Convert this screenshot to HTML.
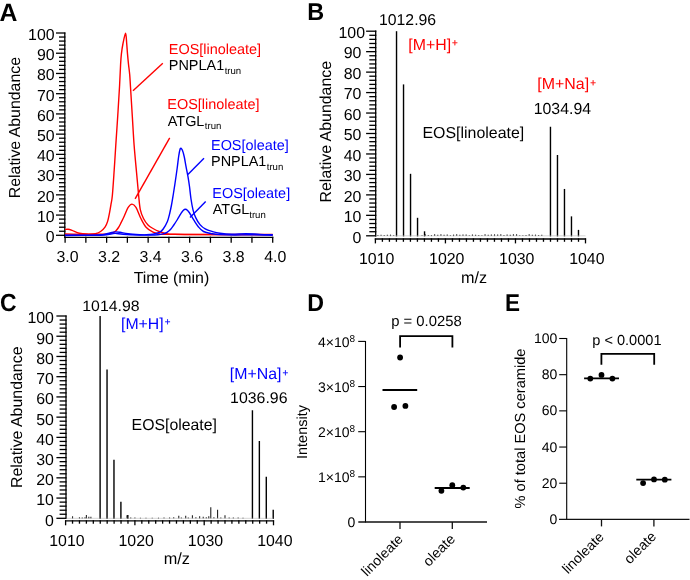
<!DOCTYPE html>
<html><head><meta charset="utf-8"><style>
html,body{margin:0;padding:0;background:#fff;}
svg{display:block;will-change:transform;}
text{font-family:"Liberation Sans", sans-serif;text-rendering:geometricPrecision;}
</style></head><body>
<svg width="690" height="580" viewBox="0 0 690 580">
<rect width="690" height="580" fill="#fff"/>
<text transform="translate(-0.42 21.30) scale(0.9903 1)" font-size="25.02" font-weight="bold">A</text>
<line x1="64.80" y1="32.40" x2="64.80" y2="237.90" stroke="#000" stroke-width="1.3"/>
<line x1="56.00" y1="235.30" x2="65.40" y2="235.30" stroke="#000" stroke-width="1.3"/>
<line x1="59.00" y1="231.25" x2="65.40" y2="231.25" stroke="#000" stroke-width="1.3"/>
<line x1="59.00" y1="227.21" x2="65.40" y2="227.21" stroke="#000" stroke-width="1.3"/>
<line x1="59.00" y1="223.16" x2="65.40" y2="223.16" stroke="#000" stroke-width="1.3"/>
<line x1="59.00" y1="219.12" x2="65.40" y2="219.12" stroke="#000" stroke-width="1.3"/>
<line x1="56.00" y1="215.07" x2="65.40" y2="215.07" stroke="#000" stroke-width="1.3"/>
<line x1="59.00" y1="211.02" x2="65.40" y2="211.02" stroke="#000" stroke-width="1.3"/>
<line x1="59.00" y1="206.98" x2="65.40" y2="206.98" stroke="#000" stroke-width="1.3"/>
<line x1="59.00" y1="202.93" x2="65.40" y2="202.93" stroke="#000" stroke-width="1.3"/>
<line x1="59.00" y1="198.89" x2="65.40" y2="198.89" stroke="#000" stroke-width="1.3"/>
<line x1="56.00" y1="194.84" x2="65.40" y2="194.84" stroke="#000" stroke-width="1.3"/>
<line x1="59.00" y1="190.79" x2="65.40" y2="190.79" stroke="#000" stroke-width="1.3"/>
<line x1="59.00" y1="186.75" x2="65.40" y2="186.75" stroke="#000" stroke-width="1.3"/>
<line x1="59.00" y1="182.70" x2="65.40" y2="182.70" stroke="#000" stroke-width="1.3"/>
<line x1="59.00" y1="178.66" x2="65.40" y2="178.66" stroke="#000" stroke-width="1.3"/>
<line x1="56.00" y1="174.61" x2="65.40" y2="174.61" stroke="#000" stroke-width="1.3"/>
<line x1="59.00" y1="170.56" x2="65.40" y2="170.56" stroke="#000" stroke-width="1.3"/>
<line x1="59.00" y1="166.52" x2="65.40" y2="166.52" stroke="#000" stroke-width="1.3"/>
<line x1="59.00" y1="162.47" x2="65.40" y2="162.47" stroke="#000" stroke-width="1.3"/>
<line x1="59.00" y1="158.43" x2="65.40" y2="158.43" stroke="#000" stroke-width="1.3"/>
<line x1="56.00" y1="154.38" x2="65.40" y2="154.38" stroke="#000" stroke-width="1.3"/>
<line x1="59.00" y1="150.33" x2="65.40" y2="150.33" stroke="#000" stroke-width="1.3"/>
<line x1="59.00" y1="146.29" x2="65.40" y2="146.29" stroke="#000" stroke-width="1.3"/>
<line x1="59.00" y1="142.24" x2="65.40" y2="142.24" stroke="#000" stroke-width="1.3"/>
<line x1="59.00" y1="138.20" x2="65.40" y2="138.20" stroke="#000" stroke-width="1.3"/>
<line x1="56.00" y1="134.15" x2="65.40" y2="134.15" stroke="#000" stroke-width="1.3"/>
<line x1="59.00" y1="130.10" x2="65.40" y2="130.10" stroke="#000" stroke-width="1.3"/>
<line x1="59.00" y1="126.06" x2="65.40" y2="126.06" stroke="#000" stroke-width="1.3"/>
<line x1="59.00" y1="122.01" x2="65.40" y2="122.01" stroke="#000" stroke-width="1.3"/>
<line x1="59.00" y1="117.97" x2="65.40" y2="117.97" stroke="#000" stroke-width="1.3"/>
<line x1="56.00" y1="113.92" x2="65.40" y2="113.92" stroke="#000" stroke-width="1.3"/>
<line x1="59.00" y1="109.87" x2="65.40" y2="109.87" stroke="#000" stroke-width="1.3"/>
<line x1="59.00" y1="105.83" x2="65.40" y2="105.83" stroke="#000" stroke-width="1.3"/>
<line x1="59.00" y1="101.78" x2="65.40" y2="101.78" stroke="#000" stroke-width="1.3"/>
<line x1="59.00" y1="97.74" x2="65.40" y2="97.74" stroke="#000" stroke-width="1.3"/>
<line x1="56.00" y1="93.69" x2="65.40" y2="93.69" stroke="#000" stroke-width="1.3"/>
<line x1="59.00" y1="89.64" x2="65.40" y2="89.64" stroke="#000" stroke-width="1.3"/>
<line x1="59.00" y1="85.60" x2="65.40" y2="85.60" stroke="#000" stroke-width="1.3"/>
<line x1="59.00" y1="81.55" x2="65.40" y2="81.55" stroke="#000" stroke-width="1.3"/>
<line x1="59.00" y1="77.51" x2="65.40" y2="77.51" stroke="#000" stroke-width="1.3"/>
<line x1="56.00" y1="73.46" x2="65.40" y2="73.46" stroke="#000" stroke-width="1.3"/>
<line x1="59.00" y1="69.41" x2="65.40" y2="69.41" stroke="#000" stroke-width="1.3"/>
<line x1="59.00" y1="65.37" x2="65.40" y2="65.37" stroke="#000" stroke-width="1.3"/>
<line x1="59.00" y1="61.32" x2="65.40" y2="61.32" stroke="#000" stroke-width="1.3"/>
<line x1="59.00" y1="57.28" x2="65.40" y2="57.28" stroke="#000" stroke-width="1.3"/>
<line x1="56.00" y1="53.23" x2="65.40" y2="53.23" stroke="#000" stroke-width="1.3"/>
<line x1="59.00" y1="49.18" x2="65.40" y2="49.18" stroke="#000" stroke-width="1.3"/>
<line x1="59.00" y1="45.14" x2="65.40" y2="45.14" stroke="#000" stroke-width="1.3"/>
<line x1="59.00" y1="41.09" x2="65.40" y2="41.09" stroke="#000" stroke-width="1.3"/>
<line x1="59.00" y1="37.05" x2="65.40" y2="37.05" stroke="#000" stroke-width="1.3"/>
<line x1="56.00" y1="33.00" x2="65.40" y2="33.00" stroke="#000" stroke-width="1.3"/>
<text x="45.77" y="242.17" font-size="15.90">0</text>
<text x="36.95" y="221.94" font-size="15.90">10</text>
<text x="36.95" y="201.71" font-size="15.90">20</text>
<text x="36.95" y="181.48" font-size="15.90">30</text>
<text x="36.95" y="161.25" font-size="15.90">40</text>
<text x="36.95" y="141.02" font-size="15.90">50</text>
<text x="36.95" y="120.79" font-size="15.90">60</text>
<text x="36.95" y="100.56" font-size="15.90">70</text>
<text x="36.95" y="80.33" font-size="15.90">80</text>
<text x="36.95" y="60.10" font-size="15.90">90</text>
<text x="28.08" y="39.87" font-size="15.90">100</text>
<line x1="64.50" y1="237.30" x2="273.30" y2="237.30" stroke="#000" stroke-width="1.3"/>
<line x1="65.10" y1="236.70" x2="65.10" y2="242.80" stroke="#000" stroke-width="1.3"/>
<line x1="85.86" y1="236.70" x2="85.86" y2="242.80" stroke="#000" stroke-width="1.3"/>
<line x1="106.62" y1="236.70" x2="106.62" y2="242.80" stroke="#000" stroke-width="1.3"/>
<line x1="127.38" y1="236.70" x2="127.38" y2="242.80" stroke="#000" stroke-width="1.3"/>
<line x1="148.14" y1="236.70" x2="148.14" y2="242.80" stroke="#000" stroke-width="1.3"/>
<line x1="168.90" y1="236.70" x2="168.90" y2="242.80" stroke="#000" stroke-width="1.3"/>
<line x1="189.66" y1="236.70" x2="189.66" y2="242.80" stroke="#000" stroke-width="1.3"/>
<line x1="210.42" y1="236.70" x2="210.42" y2="242.80" stroke="#000" stroke-width="1.3"/>
<line x1="231.18" y1="236.70" x2="231.18" y2="242.80" stroke="#000" stroke-width="1.3"/>
<line x1="251.94" y1="236.70" x2="251.94" y2="242.80" stroke="#000" stroke-width="1.3"/>
<line x1="272.70" y1="236.70" x2="272.70" y2="242.80" stroke="#000" stroke-width="1.3"/>
<text x="56.50" y="261.89" font-size="15.90">3.0</text>
<text x="98.12" y="261.89" font-size="15.90">3.2</text>
<text x="139.46" y="261.89" font-size="15.90">3.4</text>
<text x="181.10" y="261.89" font-size="15.90">3.6</text>
<text x="222.62" y="261.89" font-size="15.90">3.8</text>
<text x="264.22" y="261.89" font-size="15.90">4.0</text>
<text x="133.64" y="282.54" font-size="15.98">Time (min)</text>
<text transform="translate(20.40 198.21) rotate(-90)" font-size="15.88">Relative Abundance</text>
<path d="M65.00,229.50 C65.50,229.45 66.83,229.07 68.00,229.20 C69.17,229.33 70.10,229.63 72.00,230.30 C73.90,230.97 76.73,232.57 79.40,233.20 C82.07,233.83 84.57,233.92 88.00,234.10 C91.43,234.28 96.67,234.33 100.00,234.30 C103.33,234.27 106.00,234.12 108.00,233.90 C110.00,233.68 110.75,233.45 112.00,233.00 C113.25,232.55 114.42,232.12 115.50,231.20 C116.58,230.28 117.55,228.97 118.50,227.50 C119.45,226.03 120.23,224.32 121.20,222.40 C122.17,220.48 123.17,218.47 124.30,216.00 C125.43,213.53 126.72,209.58 128.00,207.60 C129.28,205.62 130.67,204.13 132.00,204.10 C133.33,204.07 134.52,205.00 136.00,207.40 C137.48,209.80 139.22,215.20 140.90,218.50 C142.58,221.80 144.08,224.92 146.10,227.20 C148.12,229.48 150.83,231.12 153.00,232.20 C155.17,233.28 156.27,233.33 159.10,233.70 C161.93,234.07 151.07,234.23 170.00,234.40 C188.93,234.57 255.58,234.65 272.70,234.70" fill="none" stroke="#ff0000" stroke-width="1.4" stroke-linejoin="round"/>
<path d="M65.00,234.00 C67.50,234.05 75.83,234.25 80.00,234.30 C84.17,234.35 87.42,234.40 90.00,234.30 C92.58,234.20 93.73,234.17 95.50,233.70 C97.27,233.23 99.02,232.58 100.60,231.50 C102.18,230.42 103.82,228.93 105.00,227.20 C106.18,225.47 106.93,223.57 107.70,221.10 C108.47,218.63 109.03,215.30 109.60,212.40 C110.17,209.50 110.63,206.60 111.10,203.70 C111.57,200.80 111.88,200.62 112.40,195.00 C112.92,189.38 113.63,178.33 114.20,170.00 C114.77,161.67 115.20,154.17 115.80,145.00 C116.40,135.83 117.18,124.67 117.80,115.00 C118.42,105.33 119.03,95.47 119.50,87.00 C119.97,78.53 120.28,69.72 120.60,64.20 C120.92,58.68 121.00,57.35 121.40,53.90 C121.80,50.45 122.30,46.95 123.00,43.50 C123.70,40.05 124.98,33.20 125.60,33.20 C126.22,33.20 126.38,40.05 126.70,43.50 C127.02,46.95 127.20,50.45 127.50,53.90 C127.80,57.35 128.13,60.75 128.50,64.20 C128.87,67.65 129.37,70.80 129.70,74.60 C130.03,78.40 130.07,80.10 130.50,87.00 C130.93,93.90 131.70,106.33 132.30,116.00 C132.90,125.67 133.40,135.67 134.10,145.00 C134.80,154.33 135.75,163.67 136.50,172.00 C137.25,180.33 137.97,188.73 138.60,195.00 C139.23,201.27 139.48,205.68 140.30,209.60 C141.12,213.52 142.22,215.93 143.50,218.50 C144.78,221.07 146.42,223.33 148.00,225.00 C149.58,226.67 151.15,227.42 153.00,228.50 C154.85,229.58 156.92,230.65 159.10,231.50 C161.28,232.35 163.45,233.13 166.10,233.60 C168.75,234.07 169.35,234.15 175.00,234.30 C180.65,234.45 183.72,234.47 200.00,234.50 C216.28,234.53 260.58,234.50 272.70,234.50" fill="none" stroke="#ff0000" stroke-width="1.4" stroke-linejoin="round"/>
<path d="M65.00,235.50 C70.83,235.45 92.83,235.37 100.00,235.20 C107.17,235.03 105.50,234.80 108.00,234.50 C110.50,234.20 112.50,233.45 115.00,233.40 C117.50,233.35 118.83,233.93 123.00,234.20 C127.17,234.47 135.50,234.85 140.00,235.00 C144.50,235.15 147.00,235.13 150.00,235.10 C153.00,235.07 155.83,235.00 158.00,234.80 C160.17,234.60 161.50,234.32 163.00,233.90 C164.50,233.48 165.75,233.03 167.00,232.30 C168.25,231.57 169.42,230.63 170.50,229.50 C171.58,228.37 172.35,227.17 173.50,225.50 C174.65,223.83 176.17,221.48 177.40,219.50 C178.63,217.52 179.93,215.12 180.90,213.60 C181.87,212.08 182.45,211.12 183.20,210.40 C183.95,209.68 184.67,209.30 185.40,209.30 C186.13,209.30 186.90,209.78 187.60,210.40 C188.30,211.02 188.55,211.37 189.60,213.00 C190.65,214.63 192.45,217.92 193.90,220.20 C195.35,222.48 196.70,224.82 198.30,226.70 C199.90,228.58 201.18,230.33 203.50,231.50 C205.82,232.67 209.45,233.18 212.20,233.70 C214.95,234.22 216.20,234.38 220.00,234.60 C223.80,234.82 230.00,234.97 235.00,235.00 C240.00,235.03 243.72,234.77 250.00,234.80 C256.28,234.83 268.92,235.13 272.70,235.20" fill="none" stroke="#0000ff" stroke-width="1.4" stroke-linejoin="round"/>
<path d="M65.00,235.30 C70.00,235.28 88.67,235.32 95.00,235.20 C101.33,235.08 100.50,234.97 103.00,234.60 C105.50,234.23 108.00,233.45 110.00,233.00 C112.00,232.55 113.33,232.02 115.00,231.90 C116.67,231.78 117.83,231.98 120.00,232.30 C122.17,232.62 124.67,233.40 128.00,233.80 C131.33,234.20 136.98,234.53 140.00,234.70 C143.02,234.87 143.93,234.88 146.10,234.80 C148.27,234.72 150.72,234.63 153.00,234.20 C155.28,233.77 158.10,233.07 159.80,232.20 C161.50,231.33 161.93,230.78 163.20,229.00 C164.47,227.22 166.30,224.17 167.40,221.50 C168.50,218.83 169.12,215.75 169.80,213.00 C170.48,210.25 170.93,208.00 171.50,205.00 C172.07,202.00 172.58,198.83 173.20,195.00 C173.82,191.17 174.53,186.50 175.20,182.00 C175.87,177.50 176.60,172.42 177.20,168.00 C177.80,163.58 178.27,158.75 178.80,155.50 C179.33,152.25 179.78,149.33 180.40,148.50 C181.02,147.67 181.85,149.08 182.50,150.50 C183.15,151.92 183.73,154.43 184.30,157.00 C184.87,159.57 185.30,162.70 185.90,165.90 C186.50,169.10 187.30,172.77 187.90,176.20 C188.50,179.63 188.98,182.70 189.50,186.50 C190.02,190.30 190.42,195.12 191.00,199.00 C191.58,202.88 192.22,206.70 193.00,209.80 C193.78,212.90 194.53,215.13 195.70,217.60 C196.87,220.07 198.42,222.72 200.00,224.60 C201.58,226.48 203.17,227.75 205.20,228.90 C207.23,230.05 209.73,230.77 212.20,231.50 C214.67,232.23 216.70,232.85 220.00,233.30 C223.30,233.75 227.67,234.15 232.00,234.20 C236.33,234.25 241.33,233.57 246.00,233.60 C250.67,233.63 255.55,234.20 260.00,234.40 C264.45,234.60 270.58,234.73 272.70,234.80" fill="none" stroke="#0000ff" stroke-width="1.4" stroke-linejoin="round"/>
<line x1="162.80" y1="63.30" x2="133.00" y2="90.80" stroke="#ff0000" stroke-width="1.4"/>
<line x1="169.70" y1="137.80" x2="135.10" y2="198.80" stroke="#ff0000" stroke-width="1.4"/>
<line x1="204.00" y1="158.30" x2="187.90" y2="174.40" stroke="#0000ff" stroke-width="1.4"/>
<line x1="205.70" y1="201.50" x2="190.00" y2="217.60" stroke="#0000ff" stroke-width="1.4"/>
<text x="168.81" y="53.90" font-size="14.45" fill="#ff0000">EOS[linoleate]</text>
<text x="168.81" y="70.40" font-size="14.45">PNPLA1</text>
<text x="224.66" y="73.90" font-size="9.60">trun</text>
<text x="167.31" y="108.90" font-size="14.45" fill="#ff0000">EOS[linoleate]</text>
<text x="167.76" y="125.50" font-size="14.45">ATGL</text>
<text x="204.86" y="129.00" font-size="9.60">trun</text>
<text x="211.01" y="149.80" font-size="14.45" fill="#0000ff">EOS[oleate]</text>
<text x="211.01" y="166.40" font-size="14.45">PNPLA1</text>
<text x="266.76" y="169.90" font-size="9.60">trun</text>
<text x="212.31" y="197.80" font-size="14.45" fill="#0000ff">EOS[oleate]</text>
<text x="212.76" y="214.10" font-size="14.45">ATGL</text>
<text x="249.26" y="217.50" font-size="9.60">trun</text>
<text transform="translate(307.22 19.90) scale(0.9651 1)" font-size="24.29" font-weight="bold">B</text>
<line x1="375.70" y1="30.60" x2="375.70" y2="236.40" stroke="#000" stroke-width="1.3"/>
<line x1="366.10" y1="235.80" x2="376.30" y2="235.80" stroke="#000" stroke-width="1.3"/>
<line x1="369.30" y1="231.71" x2="376.30" y2="231.71" stroke="#000" stroke-width="1.3"/>
<line x1="369.30" y1="227.62" x2="376.30" y2="227.62" stroke="#000" stroke-width="1.3"/>
<line x1="369.30" y1="223.52" x2="376.30" y2="223.52" stroke="#000" stroke-width="1.3"/>
<line x1="369.30" y1="219.43" x2="376.30" y2="219.43" stroke="#000" stroke-width="1.3"/>
<line x1="366.10" y1="215.34" x2="376.30" y2="215.34" stroke="#000" stroke-width="1.3"/>
<line x1="369.30" y1="211.25" x2="376.30" y2="211.25" stroke="#000" stroke-width="1.3"/>
<line x1="369.30" y1="207.16" x2="376.30" y2="207.16" stroke="#000" stroke-width="1.3"/>
<line x1="369.30" y1="203.06" x2="376.30" y2="203.06" stroke="#000" stroke-width="1.3"/>
<line x1="369.30" y1="198.97" x2="376.30" y2="198.97" stroke="#000" stroke-width="1.3"/>
<line x1="366.10" y1="194.88" x2="376.30" y2="194.88" stroke="#000" stroke-width="1.3"/>
<line x1="369.30" y1="190.79" x2="376.30" y2="190.79" stroke="#000" stroke-width="1.3"/>
<line x1="369.30" y1="186.70" x2="376.30" y2="186.70" stroke="#000" stroke-width="1.3"/>
<line x1="369.30" y1="182.60" x2="376.30" y2="182.60" stroke="#000" stroke-width="1.3"/>
<line x1="369.30" y1="178.51" x2="376.30" y2="178.51" stroke="#000" stroke-width="1.3"/>
<line x1="366.10" y1="174.42" x2="376.30" y2="174.42" stroke="#000" stroke-width="1.3"/>
<line x1="369.30" y1="170.33" x2="376.30" y2="170.33" stroke="#000" stroke-width="1.3"/>
<line x1="369.30" y1="166.24" x2="376.30" y2="166.24" stroke="#000" stroke-width="1.3"/>
<line x1="369.30" y1="162.14" x2="376.30" y2="162.14" stroke="#000" stroke-width="1.3"/>
<line x1="369.30" y1="158.05" x2="376.30" y2="158.05" stroke="#000" stroke-width="1.3"/>
<line x1="366.10" y1="153.96" x2="376.30" y2="153.96" stroke="#000" stroke-width="1.3"/>
<line x1="369.30" y1="149.87" x2="376.30" y2="149.87" stroke="#000" stroke-width="1.3"/>
<line x1="369.30" y1="145.78" x2="376.30" y2="145.78" stroke="#000" stroke-width="1.3"/>
<line x1="369.30" y1="141.68" x2="376.30" y2="141.68" stroke="#000" stroke-width="1.3"/>
<line x1="369.30" y1="137.59" x2="376.30" y2="137.59" stroke="#000" stroke-width="1.3"/>
<line x1="366.10" y1="133.50" x2="376.30" y2="133.50" stroke="#000" stroke-width="1.3"/>
<line x1="369.30" y1="129.41" x2="376.30" y2="129.41" stroke="#000" stroke-width="1.3"/>
<line x1="369.30" y1="125.32" x2="376.30" y2="125.32" stroke="#000" stroke-width="1.3"/>
<line x1="369.30" y1="121.22" x2="376.30" y2="121.22" stroke="#000" stroke-width="1.3"/>
<line x1="369.30" y1="117.13" x2="376.30" y2="117.13" stroke="#000" stroke-width="1.3"/>
<line x1="366.10" y1="113.04" x2="376.30" y2="113.04" stroke="#000" stroke-width="1.3"/>
<line x1="369.30" y1="108.95" x2="376.30" y2="108.95" stroke="#000" stroke-width="1.3"/>
<line x1="369.30" y1="104.86" x2="376.30" y2="104.86" stroke="#000" stroke-width="1.3"/>
<line x1="369.30" y1="100.76" x2="376.30" y2="100.76" stroke="#000" stroke-width="1.3"/>
<line x1="369.30" y1="96.67" x2="376.30" y2="96.67" stroke="#000" stroke-width="1.3"/>
<line x1="366.10" y1="92.58" x2="376.30" y2="92.58" stroke="#000" stroke-width="1.3"/>
<line x1="369.30" y1="88.49" x2="376.30" y2="88.49" stroke="#000" stroke-width="1.3"/>
<line x1="369.30" y1="84.40" x2="376.30" y2="84.40" stroke="#000" stroke-width="1.3"/>
<line x1="369.30" y1="80.30" x2="376.30" y2="80.30" stroke="#000" stroke-width="1.3"/>
<line x1="369.30" y1="76.21" x2="376.30" y2="76.21" stroke="#000" stroke-width="1.3"/>
<line x1="366.10" y1="72.12" x2="376.30" y2="72.12" stroke="#000" stroke-width="1.3"/>
<line x1="369.30" y1="68.03" x2="376.30" y2="68.03" stroke="#000" stroke-width="1.3"/>
<line x1="369.30" y1="63.94" x2="376.30" y2="63.94" stroke="#000" stroke-width="1.3"/>
<line x1="369.30" y1="59.84" x2="376.30" y2="59.84" stroke="#000" stroke-width="1.3"/>
<line x1="369.30" y1="55.75" x2="376.30" y2="55.75" stroke="#000" stroke-width="1.3"/>
<line x1="366.10" y1="51.66" x2="376.30" y2="51.66" stroke="#000" stroke-width="1.3"/>
<line x1="369.30" y1="47.57" x2="376.30" y2="47.57" stroke="#000" stroke-width="1.3"/>
<line x1="369.30" y1="43.48" x2="376.30" y2="43.48" stroke="#000" stroke-width="1.3"/>
<line x1="369.30" y1="39.38" x2="376.30" y2="39.38" stroke="#000" stroke-width="1.3"/>
<line x1="369.30" y1="35.29" x2="376.30" y2="35.29" stroke="#000" stroke-width="1.3"/>
<line x1="366.10" y1="31.20" x2="376.30" y2="31.20" stroke="#000" stroke-width="1.3"/>
<text x="352.57" y="242.57" font-size="15.90">0</text>
<text x="343.75" y="222.11" font-size="15.90">10</text>
<text x="343.75" y="201.65" font-size="15.90">20</text>
<text x="343.75" y="181.19" font-size="15.90">30</text>
<text x="343.75" y="160.73" font-size="15.90">40</text>
<text x="343.75" y="140.27" font-size="15.90">50</text>
<text x="343.75" y="119.81" font-size="15.90">60</text>
<text x="343.75" y="99.35" font-size="15.90">70</text>
<text x="343.75" y="78.89" font-size="15.90">80</text>
<text x="343.75" y="58.43" font-size="15.90">90</text>
<text x="338.48" y="37.97" font-size="15.90">100</text>
<line x1="374.80" y1="239.00" x2="586.10" y2="239.00" stroke="#000" stroke-width="1.3"/>
<line x1="375.40" y1="238.40" x2="375.40" y2="243.40" stroke="#000" stroke-width="1.3"/>
<line x1="382.40" y1="238.40" x2="382.40" y2="241.80" stroke="#000" stroke-width="1.3"/>
<line x1="389.41" y1="238.40" x2="389.41" y2="241.80" stroke="#000" stroke-width="1.3"/>
<line x1="396.41" y1="238.40" x2="396.41" y2="241.80" stroke="#000" stroke-width="1.3"/>
<line x1="403.41" y1="238.40" x2="403.41" y2="241.80" stroke="#000" stroke-width="1.3"/>
<line x1="410.42" y1="238.40" x2="410.42" y2="241.80" stroke="#000" stroke-width="1.3"/>
<line x1="417.42" y1="238.40" x2="417.42" y2="241.80" stroke="#000" stroke-width="1.3"/>
<line x1="424.42" y1="238.40" x2="424.42" y2="241.80" stroke="#000" stroke-width="1.3"/>
<line x1="431.43" y1="238.40" x2="431.43" y2="241.80" stroke="#000" stroke-width="1.3"/>
<line x1="438.43" y1="238.40" x2="438.43" y2="241.80" stroke="#000" stroke-width="1.3"/>
<line x1="445.43" y1="238.40" x2="445.43" y2="243.40" stroke="#000" stroke-width="1.3"/>
<line x1="452.44" y1="238.40" x2="452.44" y2="241.80" stroke="#000" stroke-width="1.3"/>
<line x1="459.44" y1="238.40" x2="459.44" y2="241.80" stroke="#000" stroke-width="1.3"/>
<line x1="466.44" y1="238.40" x2="466.44" y2="241.80" stroke="#000" stroke-width="1.3"/>
<line x1="473.45" y1="238.40" x2="473.45" y2="241.80" stroke="#000" stroke-width="1.3"/>
<line x1="480.45" y1="238.40" x2="480.45" y2="241.80" stroke="#000" stroke-width="1.3"/>
<line x1="487.45" y1="238.40" x2="487.45" y2="241.80" stroke="#000" stroke-width="1.3"/>
<line x1="494.46" y1="238.40" x2="494.46" y2="241.80" stroke="#000" stroke-width="1.3"/>
<line x1="501.46" y1="238.40" x2="501.46" y2="241.80" stroke="#000" stroke-width="1.3"/>
<line x1="508.46" y1="238.40" x2="508.46" y2="241.80" stroke="#000" stroke-width="1.3"/>
<line x1="515.47" y1="238.40" x2="515.47" y2="243.40" stroke="#000" stroke-width="1.3"/>
<line x1="522.47" y1="238.40" x2="522.47" y2="241.80" stroke="#000" stroke-width="1.3"/>
<line x1="529.47" y1="238.40" x2="529.47" y2="241.80" stroke="#000" stroke-width="1.3"/>
<line x1="536.48" y1="238.40" x2="536.48" y2="241.80" stroke="#000" stroke-width="1.3"/>
<line x1="543.48" y1="238.40" x2="543.48" y2="241.80" stroke="#000" stroke-width="1.3"/>
<line x1="550.48" y1="238.40" x2="550.48" y2="241.80" stroke="#000" stroke-width="1.3"/>
<line x1="557.49" y1="238.40" x2="557.49" y2="241.80" stroke="#000" stroke-width="1.3"/>
<line x1="564.49" y1="238.40" x2="564.49" y2="241.80" stroke="#000" stroke-width="1.3"/>
<line x1="571.49" y1="238.40" x2="571.49" y2="241.80" stroke="#000" stroke-width="1.3"/>
<line x1="578.50" y1="238.40" x2="578.50" y2="241.80" stroke="#000" stroke-width="1.3"/>
<line x1="585.50" y1="238.40" x2="585.50" y2="243.40" stroke="#000" stroke-width="1.3"/>
<text x="359.03" y="263.99" font-size="15.90">1010</text>
<text x="429.07" y="263.99" font-size="15.90">1020</text>
<text x="499.10" y="263.99" font-size="15.90">1030</text>
<text x="569.13" y="263.99" font-size="15.90">1040</text>
<line x1="377.90" y1="236.10" x2="377.90" y2="235.10" stroke="#222" stroke-width="1.1"/>
<line x1="381.05" y1="236.10" x2="381.05" y2="234.72" stroke="#222" stroke-width="1.1"/>
<line x1="384.20" y1="236.10" x2="384.20" y2="234.94" stroke="#222" stroke-width="1.1"/>
<line x1="387.36" y1="236.10" x2="387.36" y2="234.65" stroke="#222" stroke-width="1.1"/>
<line x1="390.51" y1="236.10" x2="390.51" y2="234.62" stroke="#222" stroke-width="1.1"/>
<line x1="393.66" y1="236.10" x2="393.66" y2="235.31" stroke="#222" stroke-width="1.1"/>
<line x1="422.02" y1="236.10" x2="422.02" y2="235.37" stroke="#222" stroke-width="1.1"/>
<line x1="425.17" y1="236.10" x2="425.17" y2="234.36" stroke="#222" stroke-width="1.1"/>
<line x1="428.32" y1="236.10" x2="428.32" y2="235.07" stroke="#222" stroke-width="1.1"/>
<line x1="431.48" y1="236.10" x2="431.48" y2="235.10" stroke="#222" stroke-width="1.1"/>
<line x1="434.63" y1="236.10" x2="434.63" y2="234.17" stroke="#222" stroke-width="1.1"/>
<line x1="437.78" y1="236.10" x2="437.78" y2="234.81" stroke="#222" stroke-width="1.1"/>
<line x1="440.93" y1="236.10" x2="440.93" y2="234.36" stroke="#222" stroke-width="1.1"/>
<line x1="444.08" y1="236.10" x2="444.08" y2="234.81" stroke="#222" stroke-width="1.1"/>
<line x1="447.23" y1="236.10" x2="447.23" y2="234.61" stroke="#222" stroke-width="1.1"/>
<line x1="450.39" y1="236.10" x2="450.39" y2="235.21" stroke="#222" stroke-width="1.1"/>
<line x1="453.54" y1="236.10" x2="453.54" y2="234.61" stroke="#222" stroke-width="1.1"/>
<line x1="456.69" y1="236.10" x2="456.69" y2="234.33" stroke="#222" stroke-width="1.1"/>
<line x1="459.84" y1="236.10" x2="459.84" y2="234.75" stroke="#222" stroke-width="1.1"/>
<line x1="462.99" y1="236.10" x2="462.99" y2="234.48" stroke="#222" stroke-width="1.1"/>
<line x1="466.14" y1="236.10" x2="466.14" y2="234.57" stroke="#222" stroke-width="1.1"/>
<line x1="469.29" y1="236.10" x2="469.29" y2="235.31" stroke="#222" stroke-width="1.1"/>
<line x1="472.45" y1="236.10" x2="472.45" y2="234.46" stroke="#222" stroke-width="1.1"/>
<line x1="475.60" y1="236.10" x2="475.60" y2="234.67" stroke="#222" stroke-width="1.1"/>
<line x1="478.75" y1="236.10" x2="478.75" y2="235.02" stroke="#222" stroke-width="1.1"/>
<line x1="481.90" y1="236.10" x2="481.90" y2="235.35" stroke="#222" stroke-width="1.1"/>
<line x1="485.05" y1="236.10" x2="485.05" y2="234.33" stroke="#222" stroke-width="1.1"/>
<line x1="488.20" y1="236.10" x2="488.20" y2="234.81" stroke="#222" stroke-width="1.1"/>
<line x1="491.35" y1="236.10" x2="491.35" y2="234.51" stroke="#222" stroke-width="1.1"/>
<line x1="494.51" y1="236.10" x2="494.51" y2="234.31" stroke="#222" stroke-width="1.1"/>
<line x1="497.66" y1="236.10" x2="497.66" y2="234.51" stroke="#222" stroke-width="1.1"/>
<line x1="500.81" y1="236.10" x2="500.81" y2="234.26" stroke="#222" stroke-width="1.1"/>
<line x1="503.96" y1="236.10" x2="503.96" y2="234.91" stroke="#222" stroke-width="1.1"/>
<line x1="507.11" y1="236.10" x2="507.11" y2="234.41" stroke="#222" stroke-width="1.1"/>
<line x1="510.26" y1="236.10" x2="510.26" y2="234.84" stroke="#222" stroke-width="1.1"/>
<line x1="513.42" y1="236.10" x2="513.42" y2="234.24" stroke="#222" stroke-width="1.1"/>
<line x1="516.57" y1="236.10" x2="516.57" y2="234.31" stroke="#222" stroke-width="1.1"/>
<line x1="519.72" y1="236.10" x2="519.72" y2="235.27" stroke="#222" stroke-width="1.1"/>
<line x1="522.87" y1="236.10" x2="522.87" y2="235.22" stroke="#222" stroke-width="1.1"/>
<line x1="526.02" y1="236.10" x2="526.02" y2="235.12" stroke="#222" stroke-width="1.1"/>
<line x1="529.17" y1="236.10" x2="529.17" y2="234.21" stroke="#222" stroke-width="1.1"/>
<line x1="532.32" y1="236.10" x2="532.32" y2="234.86" stroke="#222" stroke-width="1.1"/>
<line x1="535.48" y1="236.10" x2="535.48" y2="234.62" stroke="#222" stroke-width="1.1"/>
<line x1="538.63" y1="236.10" x2="538.63" y2="235.02" stroke="#222" stroke-width="1.1"/>
<line x1="541.78" y1="236.10" x2="541.78" y2="234.77" stroke="#222" stroke-width="1.1"/>
<line x1="396.53" y1="236.40" x2="396.53" y2="31.20" stroke="#000" stroke-width="1.4"/>
<line x1="403.53" y1="236.40" x2="403.53" y2="84.40" stroke="#000" stroke-width="1.4"/>
<line x1="410.54" y1="236.40" x2="410.54" y2="173.81" stroke="#000" stroke-width="1.4"/>
<line x1="417.54" y1="236.40" x2="417.54" y2="217.80" stroke="#000" stroke-width="1.4"/>
<line x1="424.54" y1="236.40" x2="424.54" y2="231.30" stroke="#000" stroke-width="1.4"/>
<line x1="550.46" y1="236.40" x2="550.46" y2="126.75" stroke="#000" stroke-width="1.4"/>
<line x1="557.47" y1="236.40" x2="557.47" y2="154.98" stroke="#000" stroke-width="1.4"/>
<line x1="564.47" y1="236.40" x2="564.47" y2="188.95" stroke="#000" stroke-width="1.4"/>
<line x1="571.47" y1="236.40" x2="571.47" y2="216.36" stroke="#000" stroke-width="1.4"/>
<line x1="578.48" y1="236.40" x2="578.48" y2="229.87" stroke="#000" stroke-width="1.4"/>
<line x1="375.70" y1="235.80" x2="585.50" y2="235.80" stroke="#bbb" stroke-width="0.6"/>
<text x="461.11" y="282.69" font-size="16.20">m/z</text>
<text transform="translate(330.90 202.51) rotate(-90)" font-size="15.93">Relative Abundance</text>
<text transform="translate(379.02 25.24) scale(1.0067 1)" font-size="15.69">1012.96</text>
<text x="408.35" y="50.10" font-size="15.86" fill="#ff0000">[M+H]</text>
<text x="452.11" y="46.00" font-size="9.80" fill="#ff0000" stroke="#ff0000" stroke-width="0.2">+</text>
<text x="537.35" y="89.37" font-size="15.93" fill="#ff0000">[M+Na]</text>
<text x="590.21" y="85.60" font-size="9.80" fill="#ff0000" stroke="#ff0000" stroke-width="0.2">+</text>
<text transform="translate(533.71 113.94) scale(0.9936 1)" font-size="15.97">1034.94</text>
<text x="422.49" y="137.57" font-size="15.91">EOS[linoleate]</text>
<text transform="translate(-0.02 310.85) scale(0.9206 1)" font-size="24.88" font-weight="bold">C</text>
<line x1="66.00" y1="315.40" x2="66.00" y2="518.90" stroke="#000" stroke-width="1.3"/>
<line x1="56.40" y1="518.30" x2="66.60" y2="518.30" stroke="#000" stroke-width="1.3"/>
<line x1="59.60" y1="514.25" x2="66.60" y2="514.25" stroke="#000" stroke-width="1.3"/>
<line x1="59.60" y1="510.21" x2="66.60" y2="510.21" stroke="#000" stroke-width="1.3"/>
<line x1="59.60" y1="506.16" x2="66.60" y2="506.16" stroke="#000" stroke-width="1.3"/>
<line x1="59.60" y1="502.12" x2="66.60" y2="502.12" stroke="#000" stroke-width="1.3"/>
<line x1="56.40" y1="498.07" x2="66.60" y2="498.07" stroke="#000" stroke-width="1.3"/>
<line x1="59.60" y1="494.02" x2="66.60" y2="494.02" stroke="#000" stroke-width="1.3"/>
<line x1="59.60" y1="489.98" x2="66.60" y2="489.98" stroke="#000" stroke-width="1.3"/>
<line x1="59.60" y1="485.93" x2="66.60" y2="485.93" stroke="#000" stroke-width="1.3"/>
<line x1="59.60" y1="481.89" x2="66.60" y2="481.89" stroke="#000" stroke-width="1.3"/>
<line x1="56.40" y1="477.84" x2="66.60" y2="477.84" stroke="#000" stroke-width="1.3"/>
<line x1="59.60" y1="473.79" x2="66.60" y2="473.79" stroke="#000" stroke-width="1.3"/>
<line x1="59.60" y1="469.75" x2="66.60" y2="469.75" stroke="#000" stroke-width="1.3"/>
<line x1="59.60" y1="465.70" x2="66.60" y2="465.70" stroke="#000" stroke-width="1.3"/>
<line x1="59.60" y1="461.66" x2="66.60" y2="461.66" stroke="#000" stroke-width="1.3"/>
<line x1="56.40" y1="457.61" x2="66.60" y2="457.61" stroke="#000" stroke-width="1.3"/>
<line x1="59.60" y1="453.56" x2="66.60" y2="453.56" stroke="#000" stroke-width="1.3"/>
<line x1="59.60" y1="449.52" x2="66.60" y2="449.52" stroke="#000" stroke-width="1.3"/>
<line x1="59.60" y1="445.47" x2="66.60" y2="445.47" stroke="#000" stroke-width="1.3"/>
<line x1="59.60" y1="441.43" x2="66.60" y2="441.43" stroke="#000" stroke-width="1.3"/>
<line x1="56.40" y1="437.38" x2="66.60" y2="437.38" stroke="#000" stroke-width="1.3"/>
<line x1="59.60" y1="433.33" x2="66.60" y2="433.33" stroke="#000" stroke-width="1.3"/>
<line x1="59.60" y1="429.29" x2="66.60" y2="429.29" stroke="#000" stroke-width="1.3"/>
<line x1="59.60" y1="425.24" x2="66.60" y2="425.24" stroke="#000" stroke-width="1.3"/>
<line x1="59.60" y1="421.20" x2="66.60" y2="421.20" stroke="#000" stroke-width="1.3"/>
<line x1="56.40" y1="417.15" x2="66.60" y2="417.15" stroke="#000" stroke-width="1.3"/>
<line x1="59.60" y1="413.10" x2="66.60" y2="413.10" stroke="#000" stroke-width="1.3"/>
<line x1="59.60" y1="409.06" x2="66.60" y2="409.06" stroke="#000" stroke-width="1.3"/>
<line x1="59.60" y1="405.01" x2="66.60" y2="405.01" stroke="#000" stroke-width="1.3"/>
<line x1="59.60" y1="400.97" x2="66.60" y2="400.97" stroke="#000" stroke-width="1.3"/>
<line x1="56.40" y1="396.92" x2="66.60" y2="396.92" stroke="#000" stroke-width="1.3"/>
<line x1="59.60" y1="392.87" x2="66.60" y2="392.87" stroke="#000" stroke-width="1.3"/>
<line x1="59.60" y1="388.83" x2="66.60" y2="388.83" stroke="#000" stroke-width="1.3"/>
<line x1="59.60" y1="384.78" x2="66.60" y2="384.78" stroke="#000" stroke-width="1.3"/>
<line x1="59.60" y1="380.74" x2="66.60" y2="380.74" stroke="#000" stroke-width="1.3"/>
<line x1="56.40" y1="376.69" x2="66.60" y2="376.69" stroke="#000" stroke-width="1.3"/>
<line x1="59.60" y1="372.64" x2="66.60" y2="372.64" stroke="#000" stroke-width="1.3"/>
<line x1="59.60" y1="368.60" x2="66.60" y2="368.60" stroke="#000" stroke-width="1.3"/>
<line x1="59.60" y1="364.55" x2="66.60" y2="364.55" stroke="#000" stroke-width="1.3"/>
<line x1="59.60" y1="360.51" x2="66.60" y2="360.51" stroke="#000" stroke-width="1.3"/>
<line x1="56.40" y1="356.46" x2="66.60" y2="356.46" stroke="#000" stroke-width="1.3"/>
<line x1="59.60" y1="352.41" x2="66.60" y2="352.41" stroke="#000" stroke-width="1.3"/>
<line x1="59.60" y1="348.37" x2="66.60" y2="348.37" stroke="#000" stroke-width="1.3"/>
<line x1="59.60" y1="344.32" x2="66.60" y2="344.32" stroke="#000" stroke-width="1.3"/>
<line x1="59.60" y1="340.28" x2="66.60" y2="340.28" stroke="#000" stroke-width="1.3"/>
<line x1="56.40" y1="336.23" x2="66.60" y2="336.23" stroke="#000" stroke-width="1.3"/>
<line x1="59.60" y1="332.18" x2="66.60" y2="332.18" stroke="#000" stroke-width="1.3"/>
<line x1="59.60" y1="328.14" x2="66.60" y2="328.14" stroke="#000" stroke-width="1.3"/>
<line x1="59.60" y1="324.09" x2="66.60" y2="324.09" stroke="#000" stroke-width="1.3"/>
<line x1="59.60" y1="320.05" x2="66.60" y2="320.05" stroke="#000" stroke-width="1.3"/>
<line x1="56.40" y1="316.00" x2="66.60" y2="316.00" stroke="#000" stroke-width="1.3"/>
<text x="45.07" y="525.67" font-size="15.90">0</text>
<text x="36.25" y="505.44" font-size="15.90">10</text>
<text x="36.25" y="485.21" font-size="15.90">20</text>
<text x="36.25" y="464.98" font-size="15.90">30</text>
<text x="36.25" y="444.75" font-size="15.90">40</text>
<text x="36.25" y="424.52" font-size="15.90">50</text>
<text x="36.25" y="404.29" font-size="15.90">60</text>
<text x="36.25" y="384.06" font-size="15.90">70</text>
<text x="36.25" y="363.83" font-size="15.90">80</text>
<text x="36.25" y="343.60" font-size="15.90">90</text>
<text x="27.38" y="323.37" font-size="15.90">100</text>
<line x1="65.00" y1="520.90" x2="274.10" y2="520.90" stroke="#000" stroke-width="1.3"/>
<line x1="65.60" y1="520.30" x2="65.60" y2="525.30" stroke="#000" stroke-width="1.3"/>
<line x1="72.53" y1="520.30" x2="72.53" y2="523.70" stroke="#000" stroke-width="1.3"/>
<line x1="79.46" y1="520.30" x2="79.46" y2="523.70" stroke="#000" stroke-width="1.3"/>
<line x1="86.39" y1="520.30" x2="86.39" y2="523.70" stroke="#000" stroke-width="1.3"/>
<line x1="93.32" y1="520.30" x2="93.32" y2="523.70" stroke="#000" stroke-width="1.3"/>
<line x1="100.25" y1="520.30" x2="100.25" y2="523.70" stroke="#000" stroke-width="1.3"/>
<line x1="107.18" y1="520.30" x2="107.18" y2="523.70" stroke="#000" stroke-width="1.3"/>
<line x1="114.11" y1="520.30" x2="114.11" y2="523.70" stroke="#000" stroke-width="1.3"/>
<line x1="121.04" y1="520.30" x2="121.04" y2="523.70" stroke="#000" stroke-width="1.3"/>
<line x1="127.97" y1="520.30" x2="127.97" y2="523.70" stroke="#000" stroke-width="1.3"/>
<line x1="134.90" y1="520.30" x2="134.90" y2="525.30" stroke="#000" stroke-width="1.3"/>
<line x1="141.83" y1="520.30" x2="141.83" y2="523.70" stroke="#000" stroke-width="1.3"/>
<line x1="148.76" y1="520.30" x2="148.76" y2="523.70" stroke="#000" stroke-width="1.3"/>
<line x1="155.69" y1="520.30" x2="155.69" y2="523.70" stroke="#000" stroke-width="1.3"/>
<line x1="162.62" y1="520.30" x2="162.62" y2="523.70" stroke="#000" stroke-width="1.3"/>
<line x1="169.55" y1="520.30" x2="169.55" y2="523.70" stroke="#000" stroke-width="1.3"/>
<line x1="176.48" y1="520.30" x2="176.48" y2="523.70" stroke="#000" stroke-width="1.3"/>
<line x1="183.41" y1="520.30" x2="183.41" y2="523.70" stroke="#000" stroke-width="1.3"/>
<line x1="190.34" y1="520.30" x2="190.34" y2="523.70" stroke="#000" stroke-width="1.3"/>
<line x1="197.27" y1="520.30" x2="197.27" y2="523.70" stroke="#000" stroke-width="1.3"/>
<line x1="204.20" y1="520.30" x2="204.20" y2="525.30" stroke="#000" stroke-width="1.3"/>
<line x1="211.13" y1="520.30" x2="211.13" y2="523.70" stroke="#000" stroke-width="1.3"/>
<line x1="218.06" y1="520.30" x2="218.06" y2="523.70" stroke="#000" stroke-width="1.3"/>
<line x1="224.99" y1="520.30" x2="224.99" y2="523.70" stroke="#000" stroke-width="1.3"/>
<line x1="231.92" y1="520.30" x2="231.92" y2="523.70" stroke="#000" stroke-width="1.3"/>
<line x1="238.85" y1="520.30" x2="238.85" y2="523.70" stroke="#000" stroke-width="1.3"/>
<line x1="245.78" y1="520.30" x2="245.78" y2="523.70" stroke="#000" stroke-width="1.3"/>
<line x1="252.71" y1="520.30" x2="252.71" y2="523.70" stroke="#000" stroke-width="1.3"/>
<line x1="259.64" y1="520.30" x2="259.64" y2="523.70" stroke="#000" stroke-width="1.3"/>
<line x1="266.57" y1="520.30" x2="266.57" y2="523.70" stroke="#000" stroke-width="1.3"/>
<line x1="273.50" y1="520.30" x2="273.50" y2="525.30" stroke="#000" stroke-width="1.3"/>
<text x="49.23" y="546.49" font-size="15.90">1010</text>
<text x="118.53" y="546.49" font-size="15.90">1020</text>
<text x="187.83" y="546.49" font-size="15.90">1030</text>
<text x="257.13" y="546.49" font-size="15.90">1040</text>
<line x1="72.53" y1="518.60" x2="72.53" y2="516.28" stroke="#222" stroke-width="1.1"/>
<line x1="79.46" y1="518.60" x2="79.46" y2="517.29" stroke="#222" stroke-width="1.1"/>
<line x1="82.23" y1="518.60" x2="82.23" y2="517.49" stroke="#222" stroke-width="1.1"/>
<line x1="85.00" y1="518.60" x2="85.00" y2="517.29" stroke="#222" stroke-width="1.1"/>
<line x1="86.39" y1="518.60" x2="86.39" y2="515.06" stroke="#222" stroke-width="1.1"/>
<line x1="88.82" y1="518.60" x2="88.82" y2="516.68" stroke="#222" stroke-width="1.1"/>
<line x1="90.89" y1="518.60" x2="90.89" y2="516.68" stroke="#222" stroke-width="1.1"/>
<line x1="127.00" y1="518.60" x2="127.00" y2="515.27" stroke="#222" stroke-width="1.1"/>
<line x1="130.74" y1="518.60" x2="130.74" y2="517.49" stroke="#222" stroke-width="1.1"/>
<line x1="134.90" y1="518.60" x2="134.90" y2="517.49" stroke="#222" stroke-width="1.1"/>
<line x1="140.44" y1="518.60" x2="140.44" y2="517.69" stroke="#222" stroke-width="1.1"/>
<line x1="145.99" y1="518.60" x2="145.99" y2="517.69" stroke="#222" stroke-width="1.1"/>
<line x1="152.23" y1="518.60" x2="152.23" y2="517.69" stroke="#222" stroke-width="1.1"/>
<line x1="158.46" y1="518.60" x2="158.46" y2="517.69" stroke="#222" stroke-width="1.1"/>
<line x1="164.01" y1="518.60" x2="164.01" y2="517.49" stroke="#222" stroke-width="1.1"/>
<line x1="169.55" y1="518.60" x2="169.55" y2="517.49" stroke="#222" stroke-width="1.1"/>
<line x1="173.71" y1="518.60" x2="173.71" y2="517.29" stroke="#222" stroke-width="1.1"/>
<line x1="178.77" y1="518.60" x2="178.77" y2="515.87" stroke="#222" stroke-width="1.1"/>
<line x1="181.33" y1="518.60" x2="181.33" y2="517.49" stroke="#222" stroke-width="1.1"/>
<line x1="185.70" y1="518.60" x2="185.70" y2="515.87" stroke="#222" stroke-width="1.1"/>
<line x1="188.26" y1="518.60" x2="188.26" y2="517.49" stroke="#222" stroke-width="1.1"/>
<line x1="192.42" y1="518.60" x2="192.42" y2="515.27" stroke="#222" stroke-width="1.1"/>
<line x1="195.88" y1="518.60" x2="195.88" y2="517.29" stroke="#222" stroke-width="1.1"/>
<line x1="199.63" y1="518.60" x2="199.63" y2="516.28" stroke="#222" stroke-width="1.1"/>
<line x1="203.23" y1="518.60" x2="203.23" y2="516.68" stroke="#222" stroke-width="1.1"/>
<line x1="206.28" y1="518.60" x2="206.28" y2="517.29" stroke="#222" stroke-width="1.1"/>
<line x1="208.77" y1="518.60" x2="208.77" y2="516.28" stroke="#222" stroke-width="1.1"/>
<line x1="210.78" y1="518.60" x2="210.78" y2="507.17" stroke="#222" stroke-width="1.1"/>
<line x1="213.90" y1="518.60" x2="213.90" y2="517.29" stroke="#222" stroke-width="1.1"/>
<line x1="217.57" y1="518.60" x2="217.57" y2="509.80" stroke="#222" stroke-width="1.1"/>
<line x1="220.83" y1="518.60" x2="220.83" y2="517.49" stroke="#222" stroke-width="1.1"/>
<line x1="224.99" y1="518.60" x2="224.99" y2="515.27" stroke="#222" stroke-width="1.1"/>
<line x1="229.15" y1="518.60" x2="229.15" y2="517.49" stroke="#222" stroke-width="1.1"/>
<line x1="233.31" y1="518.60" x2="233.31" y2="517.49" stroke="#222" stroke-width="1.1"/>
<line x1="238.16" y1="518.60" x2="238.16" y2="517.49" stroke="#222" stroke-width="1.1"/>
<line x1="243.01" y1="518.60" x2="243.01" y2="517.69" stroke="#222" stroke-width="1.1"/>
<line x1="100.11" y1="518.90" x2="100.11" y2="316.00" stroke="#000" stroke-width="1.4"/>
<line x1="107.04" y1="518.90" x2="107.04" y2="369.61" stroke="#000" stroke-width="1.4"/>
<line x1="113.97" y1="518.90" x2="113.97" y2="459.63" stroke="#000" stroke-width="1.4"/>
<line x1="120.90" y1="518.90" x2="120.90" y2="501.71" stroke="#000" stroke-width="1.4"/>
<line x1="127.83" y1="518.90" x2="127.83" y2="515.06" stroke="#000" stroke-width="1.4"/>
<line x1="252.43" y1="518.90" x2="252.43" y2="410.27" stroke="#000" stroke-width="1.4"/>
<line x1="259.36" y1="518.90" x2="259.36" y2="441.02" stroke="#000" stroke-width="1.4"/>
<line x1="266.29" y1="518.90" x2="266.29" y2="476.63" stroke="#000" stroke-width="1.4"/>
<line x1="273.22" y1="518.90" x2="273.22" y2="509.80" stroke="#000" stroke-width="1.4"/>
<line x1="66.00" y1="518.30" x2="273.50" y2="518.30" stroke="#bbb" stroke-width="0.6"/>
<text x="163.70" y="563.88" font-size="16.30">m/z</text>
<text transform="translate(22.20 488.01) rotate(-90)" font-size="15.91">Relative Abundance</text>
<text transform="translate(82.31 310.55) scale(1.0580 1)" font-size="14.98">1014.98</text>
<text x="121.05" y="328.89" font-size="15.82" fill="#0000ff">[M+H]</text>
<text x="164.71" y="325.20" font-size="9.80" fill="#0000ff" stroke="#0000ff" stroke-width="0.2">+</text>
<text x="229.85" y="379.36" font-size="15.88" fill="#0000ff">[M+Na]</text>
<text x="282.51" y="375.70" font-size="9.80" fill="#0000ff" stroke="#0000ff" stroke-width="0.2">+</text>
<text transform="translate(230.11 403.15) scale(1.0307 1)" font-size="15.41">1036.96</text>
<text x="131.59" y="429.55" font-size="15.84">EOS[oleate]</text>
<text transform="translate(307.34 310.70) scale(0.9487 1)" font-size="24.44" font-weight="bold">D</text>
<line x1="365.50" y1="341.00" x2="365.50" y2="522.50" stroke="#000" stroke-width="1.1"/>
<text x="347.45" y="527.31" font-size="14.00">0</text>
<line x1="358.20" y1="476.85" x2="365.50" y2="476.85" stroke="#000" stroke-width="1.1"/>
<text x="318.09" y="482.16" font-size="14.00">1×10</text>
<text x="349.57" y="477.45" font-size="10.00">8</text>
<line x1="358.20" y1="431.70" x2="365.50" y2="431.70" stroke="#000" stroke-width="1.1"/>
<text x="318.09" y="437.01" font-size="14.00">2×10</text>
<text x="349.57" y="432.30" font-size="10.00">8</text>
<line x1="358.20" y1="386.55" x2="365.50" y2="386.55" stroke="#000" stroke-width="1.1"/>
<text x="318.09" y="391.86" font-size="14.00">3×10</text>
<text x="349.57" y="387.15" font-size="10.00">8</text>
<line x1="358.20" y1="341.40" x2="365.50" y2="341.40" stroke="#000" stroke-width="1.1"/>
<text x="318.09" y="346.71" font-size="14.00">4×10</text>
<text x="349.57" y="342.00" font-size="10.00">8</text>
<line x1="358.30" y1="522.00" x2="487.00" y2="522.00" stroke="#111" stroke-width="1.3"/>
<line x1="400.00" y1="522.00" x2="400.00" y2="529.00" stroke="#111" stroke-width="1.3"/>
<line x1="452.30" y1="522.00" x2="452.30" y2="529.00" stroke="#111" stroke-width="1.3"/>
<text transform="translate(306.70 459.04) rotate(-90)" font-size="14.52">Intensity</text>
<circle cx="400.1" cy="357.5" r="2.9"/>
<circle cx="394.1" cy="407" r="2.9"/>
<circle cx="405.4" cy="405.9" r="2.9"/>
<circle cx="441.4" cy="490.8" r="2.9"/>
<circle cx="452.3" cy="485.2" r="2.9"/>
<circle cx="463.3" cy="487.6" r="2.9"/>
<line x1="382.50" y1="390.00" x2="417.20" y2="390.00" stroke="#000" stroke-width="1.8"/>
<line x1="434.70" y1="488.00" x2="469.70" y2="488.00" stroke="#000" stroke-width="1.8"/>
<path d="M400.1,347.6 V336.2 H452.4 V347.6" fill="none" stroke="#000" stroke-width="1.8"/>
<text x="391.13" y="326.39" font-size="14.85">p = 0.0258</text>
<text transform="translate(505.08 310.70) scale(0.9208 1)" font-size="24.44" font-weight="bold">E</text>
<line x1="566.70" y1="338.00" x2="566.70" y2="520.00" stroke="#000" stroke-width="1.1"/>
<text x="549.46" y="523.91" font-size="14.00">0</text>
<line x1="559.20" y1="483.22" x2="566.70" y2="483.22" stroke="#000" stroke-width="1.1"/>
<text x="541.69" y="487.73" font-size="14.00">20</text>
<line x1="559.20" y1="447.04" x2="566.70" y2="447.04" stroke="#000" stroke-width="1.1"/>
<text x="541.69" y="451.55" font-size="14.00">40</text>
<line x1="559.20" y1="410.86" x2="566.70" y2="410.86" stroke="#000" stroke-width="1.1"/>
<text x="541.69" y="415.37" font-size="14.00">60</text>
<line x1="559.20" y1="374.68" x2="566.70" y2="374.68" stroke="#000" stroke-width="1.1"/>
<text x="541.69" y="379.19" font-size="14.00">80</text>
<line x1="559.20" y1="338.50" x2="566.70" y2="338.50" stroke="#000" stroke-width="1.1"/>
<text x="533.88" y="343.01" font-size="14.00">100</text>
<line x1="559.00" y1="519.40" x2="689.50" y2="519.40" stroke="#111" stroke-width="1.3"/>
<line x1="601.50" y1="519.40" x2="601.50" y2="526.40" stroke="#111" stroke-width="1.3"/>
<line x1="653.90" y1="519.40" x2="653.90" y2="526.40" stroke="#111" stroke-width="1.3"/>
<text transform="translate(525.20 508.51) rotate(-90)" font-size="14.62">% of total EOS ceramide</text>
<circle cx="590.3" cy="378.6" r="2.9"/>
<circle cx="601.5" cy="374.9" r="2.9"/>
<circle cx="612.4" cy="378.6" r="2.9"/>
<circle cx="643.1" cy="483.1" r="2.9"/>
<circle cx="654" cy="479.4" r="2.9"/>
<circle cx="664.8" cy="479.7" r="2.9"/>
<line x1="584.10" y1="378.40" x2="619.00" y2="378.40" stroke="#000" stroke-width="1.8"/>
<line x1="636.30" y1="479.70" x2="671.40" y2="479.70" stroke="#000" stroke-width="1.8"/>
<path d="M601.4,364.8 V353.8 H654.2 V364.8" fill="none" stroke="#000" stroke-width="1.8"/>
<text x="592.25" y="344.87" font-size="14.57">p &lt; 0.0001</text>
<text transform="translate(403.86 540.12) rotate(-45)" font-size="13.96" text-anchor="end">linoleate</text>
<text transform="translate(455.96 539.88) rotate(-45)" font-size="14.17" text-anchor="end">oleate</text>
<text transform="translate(604.68 537.65) rotate(-45)" font-size="13.98" text-anchor="end">linoleate</text>
<text transform="translate(657.06 537.38) rotate(-45)" font-size="14.17" text-anchor="end">oleate</text>
</svg>
</body></html>
